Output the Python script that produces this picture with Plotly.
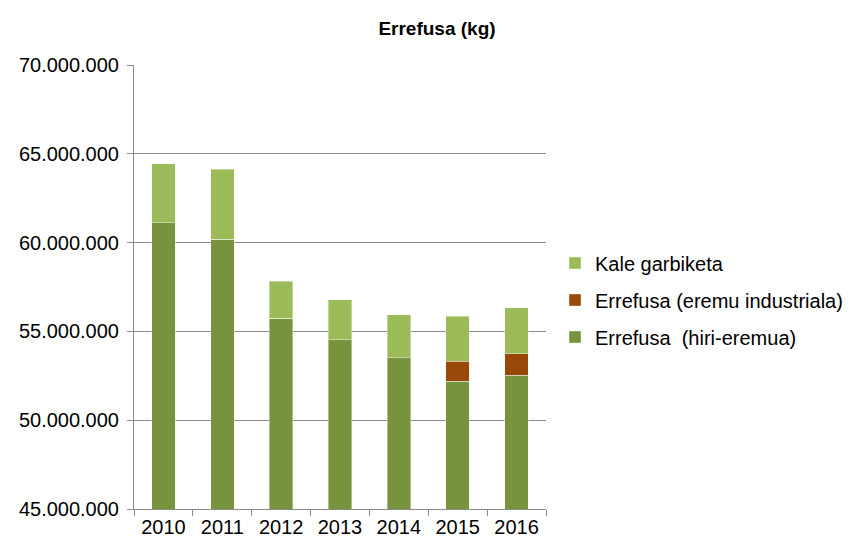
import plotly.graph_objects as go

years = ["2010", "2011", "2012", "2013", "2014", "2015", "2016"]
hiri_eremua = [61120000, 60190000, 55730000, 54530000, 53520000, 52190000, 52530000]
eremu_industriala = [0, 0, 0, 0, 0, 1140000, 1210000]
kale_garbiketa = [3320000, 3950000, 2080000, 2250000, 2430000, 2510000, 2590000]

names = ["Errefusa  (hiri-eremua)", "Errefusa (eremu industriala)", "Kale garbiketa"]
colors = ["#77933C", "#984807", "#9BBB59"]
series = [hiri_eremua, eremu_industriala, kale_garbiketa]

fig = go.Figure()
for i, (nm, col, vals) in enumerate(zip(names, colors, series)):
    fig.add_trace(go.Bar(
        x=years, y=vals, name=nm, legendgroup=f"g{i}", legendrank=10 - i,
        marker=dict(color=col, line=dict(color="rgba(255,255,255,0.4)", width=1)),
    ))

fig.update_layout(
    barmode="stack",
    bargap=0.6,
    width=858, height=541,
    margin=dict(l=134, r=312, t=65, b=32),
    paper_bgcolor="white", plot_bgcolor="white",
    separators=",.",
    font=dict(family="Liberation Sans, Arial, sans-serif", color="#000000"),
    title=dict(text="<b>Errefusa (kg)</b>", x=437 / 858, xanchor="center",
               y=1 - 28 / 541, yanchor="middle", font=dict(size=19)),
    legend=dict(traceorder="grouped", xref="container", yref="container",
                x=555 / 858, xanchor="left", y=1 - 300 / 541, yanchor="middle",
                font=dict(size=20), itemwidth=30, tracegroupgap=8),
    showlegend=True,
)
fig.update_yaxes(range=[45000000, 70000000], tickvals=[45000000, 50000000, 55000000, 60000000, 65000000, 70000000],
                 tickformat=",d", showgrid=True, gridcolor="#8C8C8C", gridwidth=1,
                 showline=True, linecolor="#8C8C8C", ticks="outside", ticklen=6, tickcolor="#8C8C8C",
                 tickfont=dict(size=20), zeroline=False, automargin=False, ticklabelstandoff=4)
fig.update_xaxes(showline=True, linecolor="#8C8C8C", ticks="outside", tickson="boundaries",
                 ticklen=6, tickcolor="#8C8C8C", tickfont=dict(size=20), showgrid=False, automargin=False)

fig.write_html("out.html", config={"displayModeBar": False},
               post_script="document.body.style.margin='0';")
